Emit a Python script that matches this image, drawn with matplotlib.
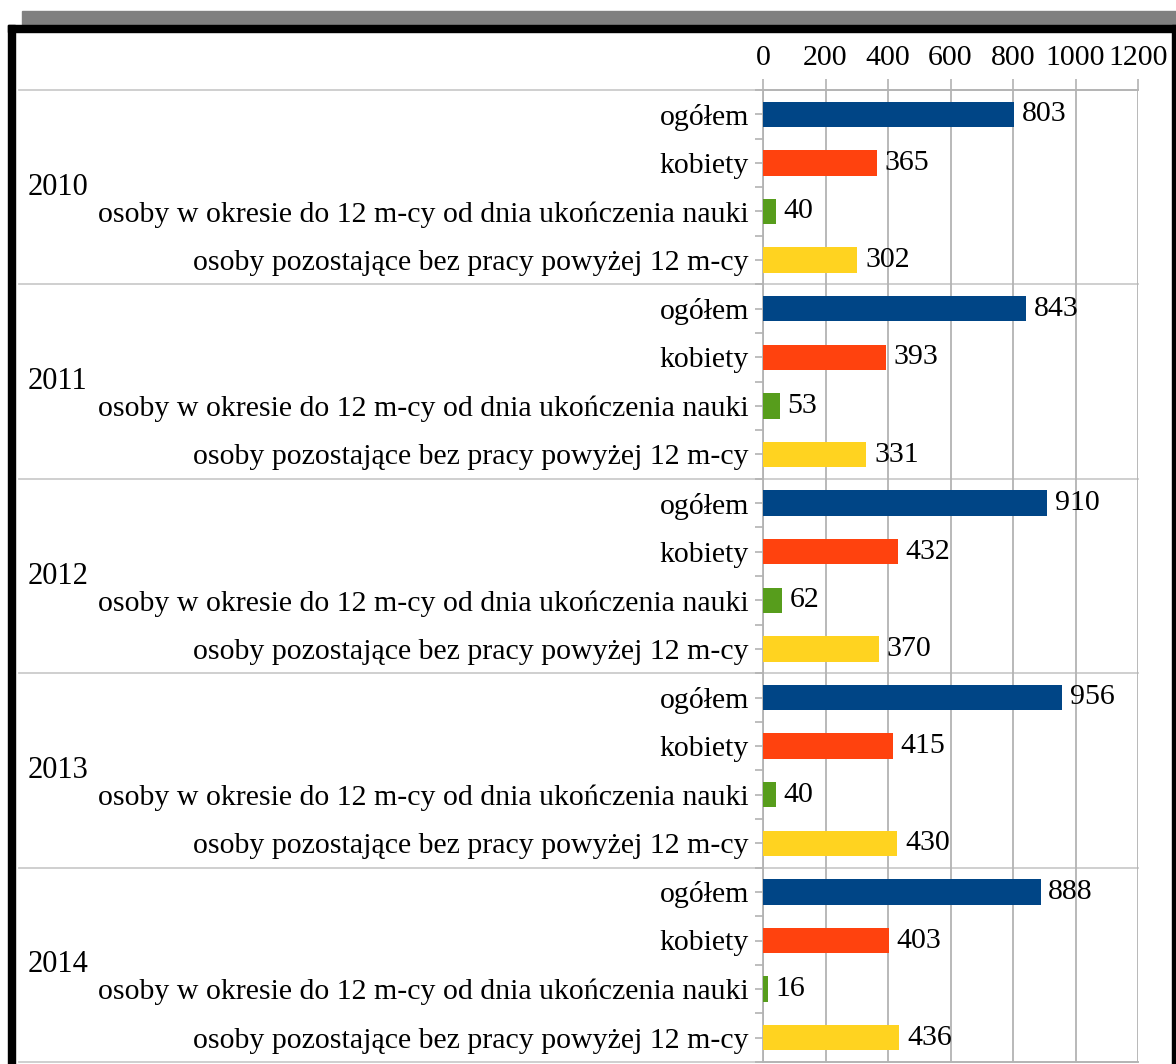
import numpy as np
import matplotlib
matplotlib.use("Agg")
import matplotlib.pyplot as plt
from matplotlib.patches import Rectangle
from matplotlib.transforms import blended_transform_factory

# data
years = ["2010", "2011", "2012", "2013", "2014"]
categories = ["ogółem", "kobiety",
              "osoby w okresie do 12 m-cy od dnia ukończenia nauki",
              "osoby pozostające bez pracy powyżej 12 m-cy"]
ogolem = [803, 843, 910, 956, 888]
kobiety = [365, 393, 432, 415, 403]
absolwenci = [40, 53, 62, 40, 16]
dlugotrwale = [302, 331, 370, 430, 436]
x_ticks = [0, 200, 400, 600, 800, 1000, 1200]

colors = ["#004586", "#ff420e", "#579d1c", "#ffd320"]
grid_col = "#b3b3b3"

plt.rcParams['font.family'] = ['Liberation Serif', 'DejaVu Serif']

W, H = 1176, 1064
fig = plt.figure(figsize=(W / 100, H / 100), dpi=100)

# frame decoration (shadow band + black border)
fig.patches.append(Rectangle((22 / W, 1 - 25 / H), 1, 14 / H, transform=fig.transFigure,
                             color="#808080", zorder=0))
fig.patches.append(Rectangle((8 / W, 0), 7 / W, 1 - 25 / H, transform=fig.transFigure,
                             color="black", zorder=0))
fig.patches.append(Rectangle((8 / W, 1 - 32 / H), 1, 7 / H, transform=fig.transFigure,
                             color="black", zorder=0))
fig.patches.append(Rectangle((1172 / W, 0), 10 / W, 1 - 25 / H, transform=fig.transFigure,
                             color="black", zorder=0))

left, right, top, bottom = 763, 1138, 90, 1062
ax = fig.add_axes([left / W, 1 - bottom / H, (right - left) / W, (bottom - top) / H])

series = [ogolem, kobiety, absolwenci, dlugotrwale]
n_cat = len(categories)
labels = []
for gi, year in enumerate(years):
    for ci in range(n_cat):
        pos = gi * n_cat + ci
        val = series[ci][gi]
        ax.barh(pos, val, height=0.52, color=colors[ci], zorder=3)
        ax.text(val + 25, pos, str(val), va="center", ha="left", fontsize=21.5, zorder=4)
        labels.append(categories[ci])

n = len(labels)
ax.set_ylim(n - 0.5, -0.5)
ax.set_xlim(0, 1200)
ax.set_yticks(np.arange(n))
ax.set_yticklabels(labels, fontsize=21.5)
ax.set_yticks(np.arange(n + 1) - 0.5, minor=True)
ax.tick_params(axis="y", which="both", length=6, color=grid_col, width=1.2, pad=4)

ax.xaxis.tick_top()
ax.set_xticks(x_ticks)
ax.set_xticklabels([str(t) for t in x_ticks], fontsize=21.5)
ax.tick_params(axis="x", length=8, color=grid_col, width=1.2, pad=6)
ax.grid(axis="x", color=grid_col, linewidth=1.3, zorder=0)

for s in ["top", "bottom", "left"]:
    ax.spines[s].set_color(grid_col)
    ax.spines[s].set_linewidth(1.3)
ax.spines["right"].set_visible(False)

# group separators and year labels
tr = blended_transform_factory(fig.transFigure, ax.transData)
for gi, year in enumerate(years):
    b = gi * n_cat - 0.5
    ax.plot([19 / W, right / W], [b, b], transform=tr, color="#cccccc",
            linewidth=1.3, clip_on=False, zorder=1)
    ax.text(28 / W, gi * n_cat + (n_cat - 1) / 2, year, transform=tr, ha="left",
            va="center", fontsize=22)
ax.plot([19 / W, right / W], [n - 0.5, n - 0.5], transform=tr, color="#cccccc",
        linewidth=1.3, clip_on=False, zorder=1)

fig.savefig("out.png", dpi=100)
